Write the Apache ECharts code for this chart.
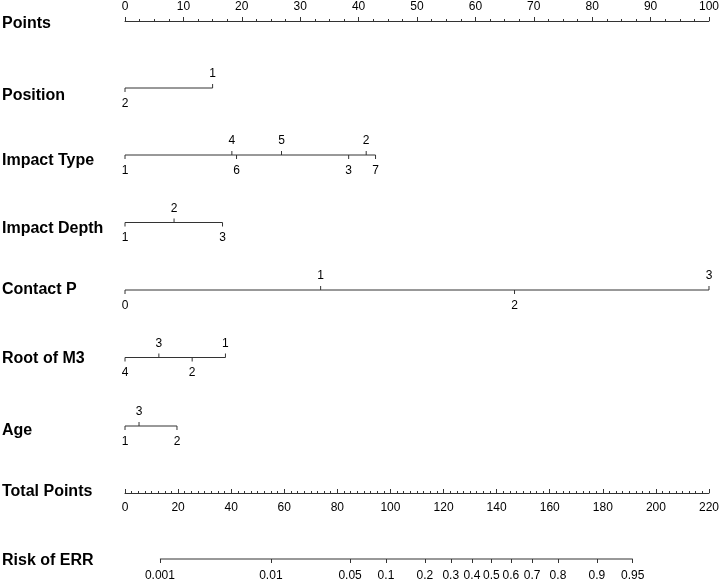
<!DOCTYPE html>
<html>
<head>
<meta charset="utf-8">
<script src="https://cdn.jsdelivr.net/npm/echarts@6/dist/echarts.min.js"></script>
<style>
html,body{margin:0;padding:0;background:#fff;}
#chart{width:722px;height:582px;}
</style>
</head>
<body>
<div id="chart"></div>
<script>
// ---------- DATA ----------
const pointsMax = 100, pointsStep = 10;
const totalMax = 220, totalStep = 20;

const positionLevels = ['1', '2'];
const positionPoints = [15, 0];
const positionSide = [1, -1];

const impactTypeLevels = ['1', '2', '3', '4', '5', '6', '7'];
const impactTypePoints = [0, 41.3, 38.3, 18.3, 26.8, 19.1, 42.9];
const impactTypeSide = [-1, 1, -1, 1, 1, -1, -1];

const impactDepthLevels = ['1', '2', '3'];
const impactDepthPoints = [0, 8.4, 16.7];
const impactDepthSide = [-1, 1, -1];

const contactPLevels = ['0', '1', '2', '3'];
const contactPPoints = [0, 33.5, 66.7, 100];
const contactPSide = [-1, 1, -1, 1];

const rootM3Levels = ['1', '2', '3', '4'];
const rootM3Points = [17.2, 11.5, 5.8, 0];
const rootM3Side = [1, -1, 1, -1];

const ageLevels = ['1', '2', '3'];
const agePoints = [0, 8.9, 2.4];
const ageSide = [-1, -1, 1];

const riskTicks = [0.001, 0.01, 0.05, 0.1, 0.2, 0.3, 0.4, 0.5, 0.6, 0.7, 0.8, 0.9, 0.95];
const riskLabels = ['0.001', '0.01', '0.05', '0.1', '0.2', '0.3', '0.4', '0.5', '0.6', '0.7', '0.8', '0.9', '0.95'];
const totalAtLogitZero = 137.8;   // total points where linear predictor = 0
const totalPerLogit = 18.05;      // total points per unit of linear predictor

const titles = ['Points', 'Position', 'Impact Type', 'Impact Depth', 'Contact P', 'Root of M3', 'Age', 'Total Points', 'Risk of ERR'];

// ---------- LAYOUT ----------
const gridTop = 21, gridLeft = 125, gridRight = 12;
const mainHeight = 472;                       // Points axis -> Total Points axis
const rowY = [67, 134, 201.5, 269, 336.5, 405]; // row line offsets inside main grid
const titleY = [24, 96, 161, 229, 289.5, 359, 431, 492, 561];
const riskLineY = 559;
const lineColor = '#333';
const FONT = '"Liberation Sans", Arial, sans-serif';

const variables = [
  [positionLevels, positionPoints, positionSide],
  [impactTypeLevels, impactTypePoints, impactTypeSide],
  [impactDepthLevels, impactDepthPoints, impactDepthSide],
  [contactPLevels, contactPPoints, contactPSide],
  [rootM3Levels, rootM3Points, rootM3Side],
  [ageLevels, agePoints, ageSide]
];

function logit(p) { return Math.log(p / (1 - p)); }
const riskTotal = riskTicks.map(p => totalAtLogitZero + totalPerLogit * logit(p));

const series = [];
variables.forEach(([levels, pts, side], vi) => {
  const y = rowY[vi];
  series.push({
    type: 'line', xAxisIndex: 0, yAxisIndex: 0, silent: true, symbol: 'none',
    lineStyle: { color: lineColor, width: 1 }, clip: false, animation: false,
    data: [[Math.min(...pts), y], [Math.max(...pts), y]]
  });
  series.push({
    type: 'custom', coordinateSystem: 'cartesian2d', xAxisIndex: 0, yAxisIndex: 0,
    silent: true, animation: false, clip: false,
    data: pts.map((p, i) => [p, y, side[i]]),
    renderItem: function (params, api) {
      const c = api.coord([api.value(0), api.value(1)]);
      const s = api.value(2);
      return {
        type: 'group',
        children: [
          { type: 'line', shape: { x1: c[0], y1: c[1], x2: c[0], y2: c[1] - s * 4 },
            style: { stroke: lineColor, lineWidth: 1 } },
          { type: 'text', x: c[0], y: c[1] - s * (s > 0 ? 14 : 15.5),
            style: { text: levels[params.dataIndex], align: 'center', verticalAlign: 'middle',
                     font: '12px ' + FONT, fill: '#000' } }
        ]
      };
    }
  });
});

// Risk axis line
series.push({
  type: 'line', xAxisIndex: 2, yAxisIndex: 1, silent: true, symbol: 'none', clip: false,
  animation: false, lineStyle: { color: lineColor, width: 1 },
  data: [[riskTotal[0], 0], [riskTotal[riskTotal.length - 1], 0]]
});

const axisText = { color: '#000', fontSize: 12, fontFamily: FONT };

const option = {
  animation: false,
  backgroundColor: '#fff',
  grid: [
    { left: gridLeft, right: gridRight, top: gridTop, height: mainHeight },
    { left: gridLeft, right: gridRight, top: riskLineY - 20, height: 20 }
  ],
  xAxis: [
    { gridIndex: 0, type: 'value', position: 'top', min: 0, max: pointsMax, interval: pointsStep,
      axisLine: { onZero: false, lineStyle: { color: lineColor } },
      axisTick: { length: 4, lineStyle: { color: lineColor } },
      minorTick: { show: true, splitNumber: 4, length: 2, lineStyle: { color: lineColor } },
      axisLabel: Object.assign({ margin: 8 }, axisText),
      splitLine: { show: false }, minorSplitLine: { show: false } },
    { gridIndex: 0, type: 'value', position: 'bottom', min: 0, max: totalMax, interval: totalStep,
      axisLine: { onZero: false, lineStyle: { color: lineColor } },
      axisTick: { inside: true, length: 4, lineStyle: { color: lineColor } },
      minorTick: { show: true, splitNumber: 8, length: 2, lineStyle: { color: lineColor } },
      axisLabel: Object.assign({ margin: 9 }, axisText),
      splitLine: { show: false }, minorSplitLine: { show: false } },
    { gridIndex: 1, type: 'value', position: 'bottom', min: 0, max: totalMax,
      axisLine: { show: false, onZero: false },
      axisTick: { show: true, length: 4, customValues: riskTotal, lineStyle: { color: lineColor } },
      axisLabel: Object.assign({
        margin: 11, customValues: riskTotal,
        formatter: function (v) {
          let best = 0, bd = Infinity;
          riskTotal.forEach((t, i) => { const d = Math.abs(t - v); if (d < bd) { bd = d; best = i; } });
          return riskLabels[best];
        }
      }, axisText),
      splitLine: { show: false } }
  ],
  yAxis: [
    { gridIndex: 0, type: 'value', min: 0, max: mainHeight, inverse: true, show: false },
    { gridIndex: 1, type: 'value', min: 0, max: 1, show: false }
  ],
  graphic: titles.map((t, i) => ({
    type: 'text', x: 2, y: titleY[i], silent: true,
    style: { text: t, font: 'bold 16px ' + FONT, fill: '#000', verticalAlign: 'middle' }
  })),
  series: series
};

const chart = echarts.init(document.getElementById('chart'), null, { renderer: 'canvas' });
chart.setOption(option);
</script>
</body>
</html>
